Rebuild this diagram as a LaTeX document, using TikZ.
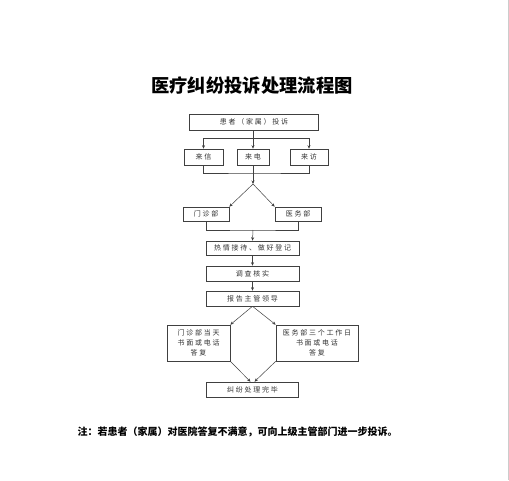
\documentclass[tikz,border=0pt]{standalone}
\usepackage{fontspec}
\setmainfont{Noto Sans CJK SC}
\newfontfamily\boxfont[LetterSpace=25]{Noto Sans CJK SC}
\usetikzlibrary{arrows.meta}

\begin{document}
\begin{tikzpicture}[x=1pt, y=-1pt,
  box/.style={draw=black!75, line width=0.6pt, inner sep=0pt, align=center,
              font=\boxfont\fontsize{7}{10}\selectfont, text=black!80},
  arr/.style={-{Stealth[length=3.5pt,width=3pt]}, line width=0.5pt, draw=black!75},
  ln/.style={line width=0.5pt, draw=black!75},
]
\useasboundingbox (0,0) rectangle (509,480);
% Title
\node[font=\bfseries\fontsize{18.3}{20}\selectfont] at (252,86) (title) {医疗纠纷投诉处理流程图};
% Boxes (centres in pixel coordinates)
\node[box, minimum width=129pt, minimum height=16pt] at (254,122)   (complain) {患者（家属）投诉};
\node[box, minimum width=39pt,  minimum height=16pt] at (203.5,157) (letter)   {来信};
\node[box, minimum width=32pt,  minimum height=16pt] at (253,157)   (phone)    {来电};
\node[box, minimum width=38pt,  minimum height=16pt] at (309,157)   (visit)    {来访};
\node[box, minimum width=46pt,  minimum height=14pt] at (206,214)   (clinic)   {门诊部};
\node[box, minimum width=46pt,  minimum height=14pt] at (298,214)   (medical)  {医务部};
\node[box, minimum width=93pt,  minimum height=14pt] at (252.5,248) (receive)  {热情接待、做好登记};
\node[box, minimum width=93pt,  minimum height=15pt] at (252.5,273.5) (check)  {调查核实};
\node[box, minimum width=93pt,  minimum height=15pt] at (252.5,298.5) (report) {报告主管领导};
\node[box, minimum width=63pt,  minimum height=36pt] at (198.5,343) (ansL)
     {门诊部当天\\书面或电话\\答复};
\node[box, minimum width=82pt,  minimum height=36pt] at (317,343)   (ansR)
     {医务部三个工作日\\书面或电话\\答复};
\node[box, minimum width=92pt,  minimum height=15pt] at (252.5,389.5) (done)  {纠纷处理完毕};
% Connectors
\coordinate (split) at (253,138);
\coordinate (join1) at (253,173);
\coordinate (hub)   at (253,184);
\coordinate (join2) at (253,230);
\draw[ln]  (complain.south -| split) -- (split);
\draw[arr] (split) -| (letter.north);
\draw[arr] (split) -| (visit.north);
\draw[arr] (split) -- (phone.north);
\draw[ln]  (letter.south) |- (join1) -| (visit.south);
\draw[arr] (phone.south) -- (hub);
\draw[arr] (hub) -- (clinic.north east);
\draw[arr] (hub) -- (medical.north west);
\draw[ln]  (clinic.south) |- (join2) -| (medical.south);
\draw[arr] (join2) -- (receive.north);
\draw[arr] (receive) -- (check);
\draw[arr] (check) -- (report);
\draw[arr] (report.south) -- (ansL.north east);
\draw[arr] (report.south) -- (ansR.north west);
\draw[arr] (ansL.south east) -- ([xshift=-2pt]done.north);
\draw[arr] (ansR.south west) -- ([xshift=2pt]done.north);
% Note
\node[font=\bfseries\fontsize{10}{12}\selectfont, anchor=west] at (74,432) (note)
     {注：若患者（家属）对医院答复不满意，可向上级主管部门进一步投诉。};
\draw[black!20, line width=1pt] (508.5,0) -- (508.5,480);
\end{tikzpicture}
\end{document}
